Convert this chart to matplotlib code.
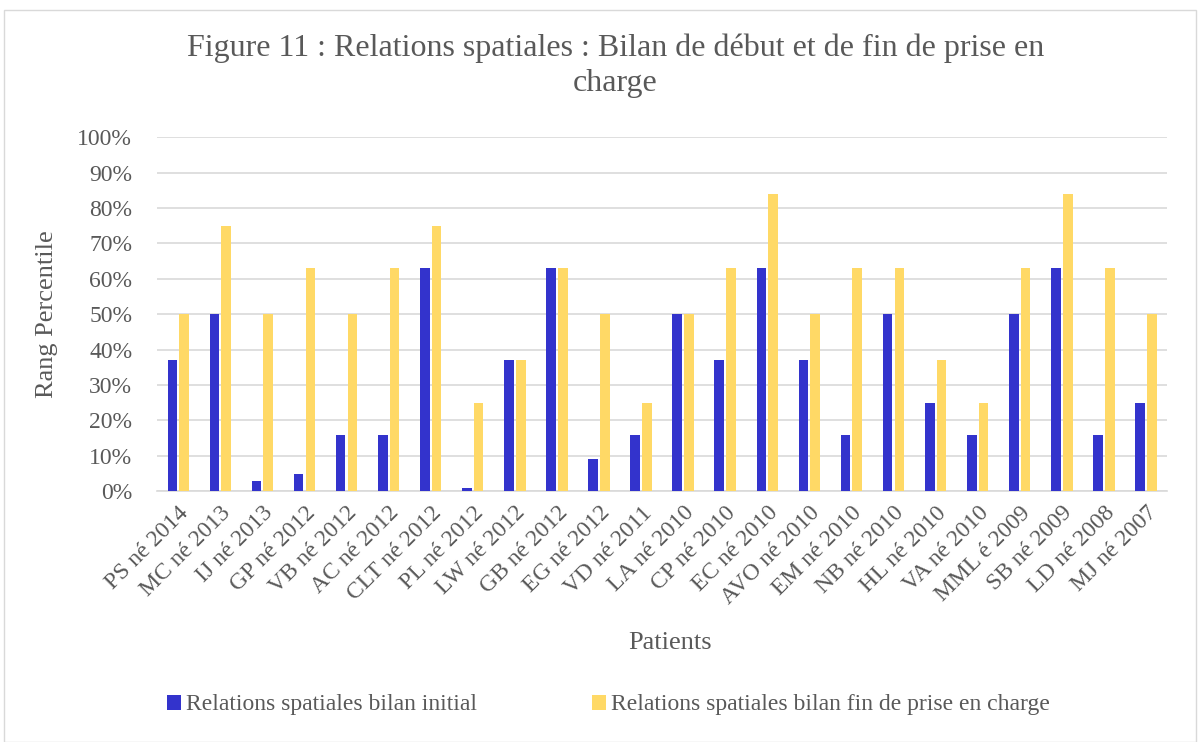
import numpy as np
import matplotlib.pyplot as plt
from matplotlib.patches import Rectangle
from matplotlib.ticker import PercentFormatter

plt.rcParams['font.family'] = ['Liberation Serif', 'DejaVu Serif']

patients = ['PS né 2014', 'MC né 2013', 'IJ né 2013', 'GP né 2012', 'VB né 2012',
            'AC né 2012', 'CLT né 2012', 'PL né 2012', 'LW né 2012', 'GB né 2012',
            'EG né 2012', 'VD né 2011', 'LA né 2010', 'CP né 2010', 'EC né 2010',
            'AVO né 2010', 'EM né 2010', 'NB né 2010', 'HL né 2010', 'VA né 2010',
            'MML é 2009', 'SB né 2009', 'LD né 2008', 'MJ né 2007']
initial = [37, 50, 3, 5, 16, 16, 63, 1, 37, 63, 9, 16, 50, 37, 63, 37, 16, 50, 25, 16, 50, 63, 16, 25]
final = [50, 75, 50, 63, 50, 63, 75, 25, 37, 63, 50, 25, 50, 63, 84, 50, 63, 63, 37, 25, 63, 84, 63, 50]

txt = '#595959'
fig = plt.figure(figsize=(12, 7.42), dpi=100)
fig.patches.append(Rectangle((0.003, 0.0), 0.994, 0.986, transform=fig.transFigure,
                             fill=False, edgecolor='#d9d9d9', linewidth=1))
ax = fig.add_axes([0.131, 0.338, 0.8415, 0.477])

x = np.arange(len(patients))
w = 0.23
ax.bar(x - 0.14, np.array(initial) / 100, w, color='#3333CC', label='Relations spatiales bilan initial', zorder=3)
ax.bar(x + 0.14, np.array(final) / 100, w, color='#FFD966',
       label='Relations spatiales bilan fin de prise en charge', zorder=3)

ax.set_xlim(-0.5, len(patients) - 0.5)
ax.set_ylim(0, 1)
ax.set_yticks(np.arange(0, 1.01, 0.1))
ax.yaxis.set_major_formatter(PercentFormatter(1.0, decimals=0))
ax.grid(axis='y', color='#d9d9d9', linewidth=1.2, zorder=0)
for s in ['top', 'right', 'left']:
    ax.spines[s].set_visible(False)
ax.spines['bottom'].set_color('#d9d9d9')
ax.spines['bottom'].set_linewidth(1.2)
ax.tick_params(length=0, labelsize=17, labelcolor=txt)
ax.set_xticks(x)
ax.set_xticklabels(patients, rotation=45, ha='right', rotation_mode='anchor')
ax.tick_params(axis='x', pad=8)
ax.tick_params(axis='y', pad=18)

ax.set_ylabel('Rang Percentile', fontsize=19, color=txt, labelpad=14)
fig.text(0.558, 0.125, 'Patients', fontsize=19, color=txt, ha='center')
fig.text(0.513, 0.955, 'Figure 11 : Relations spatiales : Bilan de début et de fin de prise en\ncharge',
         fontsize=23, color=txt, ha='center', va='top', linespacing=1.3)

fig.legend(loc='center', bbox_to_anchor=(0.507, 0.05), ncol=2, frameon=False,
           fontsize=17, labelcolor=txt, handlelength=0.6, handleheight=0.6,
           handletextpad=0.2, columnspacing=4.9)

fig.savefig('out.png', dpi=100)
